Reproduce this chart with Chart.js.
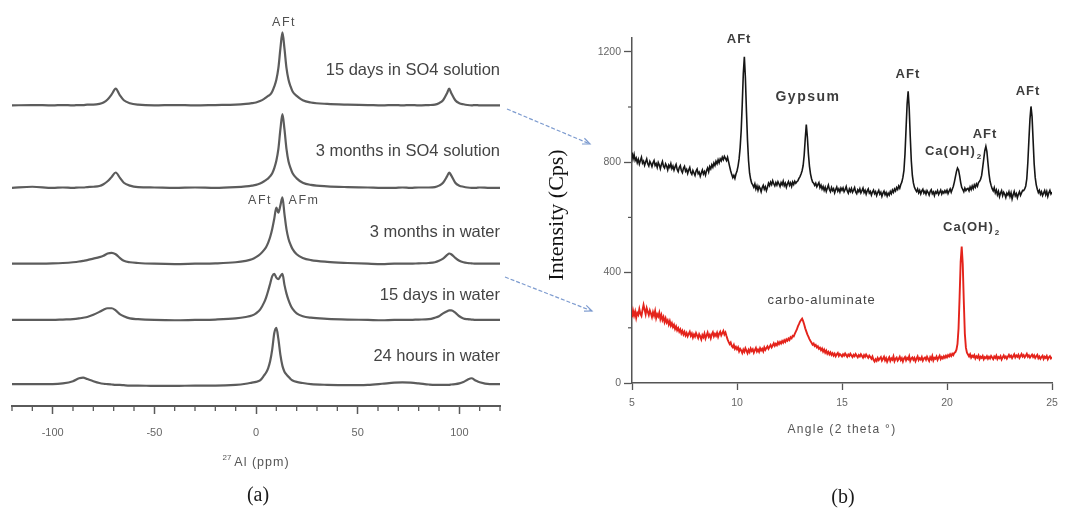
<!DOCTYPE html>
<html>
<head>
<meta charset="utf-8">
<script src="https://cdn.jsdelivr.net/npm/chart.js@4.4.1/dist/chart.umd.min.js"></script>
<style>
   html, body { margin: 0; padding: 0; background: #fff; }
   #wrap { position: relative; width: 1065px; height: 515px; }
   #wrap canvas { position: absolute; left: 0; top: 0; }
</style>
</head>
<body>
<div id="wrap">
   <canvas id="canvasNmr" width="1065" height="515"></canvas>
   <canvas id="canvasXrd" width="1065" height="515"></canvas>
</div>
<script>

/* ---------- (a) 27Al NMR spectra, intensity in a.u. above each baseline ---------- */

const ppmGrid = [
   -120, -110, -100, -95, -90, -87, -85, -83, -80, -77,
   -75, -73, -71, -69, -67, -65, -62, -58, -50, -40,
   -30, -20, -10, -5, -2, 0, 2, 4, 5, 6,
   7, 8, 9, 10, 11, 12, 13, 14, 15, 16,
   17, 18, 20, 23, 27, 35, 45, 55, 62, 68,
   72, 76, 80, 85, 88, 90, 92, 94, 95, 96,
   98, 100, 102, 104, 106, 108, 110, 115, 120
];

const nmrNames = [
   "15 days in SO4 solution",
   "3 months in SO4 solution",
   "3 months in water",
   "15 days in water",
   "24 hours in water"
];

const nmr15dSO4 = [
   0, 0.5, 0, 0.5, 0, 0.5, 0.5, 1, 1, 2,
   4, 8, 15, 23, 14, 7, 3, 1, 0, 0.5,
   0, 0.5, 1, 2, 3, 4, 6, 9, 11, 13,
   15, 19, 26, 35, 51, 78, 100, 78, 51, 35,
   26, 19, 13, 7, 4, 2, 1, 0.5, 0, 0.5,
   0, 0.5, 0, 0.5, 1, 3, 7, 17, 23, 17,
   7, 3, 1.5, 0.5, 0, 0.5, 0, 0, 0
];

const nmr3mSO4 = [
   0, 1.5, 0, 0.5, 0, 0.5, 0.5, 1, 1.5, 2.5,
   5, 9, 15, 21, 14, 7, 3, 1, 0.5, 0,
   0.5, 0, 1, 2, 3, 4, 6, 9, 11, 13,
   16, 20, 27, 37, 53, 80, 101, 80, 53, 36,
   27, 20, 13, 7, 4, 2, 1, 0.5, 0, 0,
   0.5, 0, 0.5, 0.5, 1, 3, 7, 16, 21, 17,
   7, 3, 1.5, 0.5, 0, 0, 0.5, 0, 0
];

const nmr3mWater = [
   0, 0, 0.5, 1, 2, 3, 4, 5, 7, 9,
   11, 14, 15, 13, 8, 4, 2, 1, 0, -0.5,
   0, 0.5, 2, 4, 6, 9, 13, 19, 23, 29,
   37, 48, 62, 77, 70, 80, 91, 68, 47, 34,
   26, 20, 13, 8, 5, 2.5, 1, 0, -0.5, 0,
   0, 0, 0.5, 1, 2, 4, 7, 12, 14, 13,
   8, 4, 2, 1, 0.5, 0, 0, 0, 0
];

const nmr15dWater = [
   0, 0, 0, 0.5, 1, 2, 3, 4, 7, 11,
   14, 16, 16, 13, 8, 5, 2, 1, 0, -0.5,
   0, 0.5, 2, 4, 6, 9, 14, 24, 31, 40,
   50, 60, 63, 58, 56, 60, 63, 48, 36, 27,
   20, 15, 9, 5, 3, 1.5, 0.5, 0, -0.5, 0,
   0, 0, 0.5, 1, 3, 5, 9, 12, 13, 13,
   10, 5, 2, 1, 0.5, 0, 0, 0, 0
];

const nmr24hWater = [
   0, 0, 0, 1, 4, 8, 9, 7, 4, 1.5,
   0.5, 0, -0.5, -1, -1, -1.5, -2, -2, -2.5, -2.5,
   -2, -2, -1, 0.5, 2, 3, 5, 12, 16, 22,
   32, 48, 70, 77, 62, 40, 25, 17, 13, 10,
   7, 5, 3, 1.5, 0, -1, -1.5, -1, 0.5, 2,
   2.5, 2, 1, -0.5, -1, -1, -1, -1, -1, -0.5,
   0, 1, 3, 6, 8, 5, 2.5, 0, 0
];

const ppmTicks = [-100, -50, 0, 50, 100];
const ppmMinor = [-120, -110, -90, -80, -70, -60, -40, -30, -20, -10,
   10, 20, 30, 40, 60, 70, 80, 90, 110, 120];

/* ---------- (b) XRD patterns, step scan 5 -> 25 deg, 0.05 deg step ---------- */

const scanStart = 5, scanStep = 0.05;

/* 15 days in SO4 solution (black) */
const xrdSO4 = [
   835, 812, 828, 806, 815, 798, 810, 793, 806, 818, 797, 804, 789, 801, 812, 794, 786, 803, 795, 784,
   798, 806, 788, 795, 781, 799, 790, 776, 792, 803, 785, 779, 794, 786, 772, 789, 781, 795, 777, 786,
   771, 783, 792, 774, 766, 781, 788, 770, 762, 778, 785, 767, 774, 759, 772, 781, 763, 756, 770, 761,
   752, 768, 775, 758, 764, 749, 761, 772, 757, 766, 753, 770, 779, 765, 784, 776, 791, 782, 797, 788,
   803, 794, 809, 798, 812, 805, 818, 809, 821, 814, 806, 818, 801, 784, 768, 755, 744, 752, 741, 757,
   768, 786, 812, 853, 915, 1010, 1120, 1182, 1105, 985, 880, 805, 760, 738, 724, 718, 709, 721, 703, 714,
   698, 712, 705, 693, 708, 716, 702, 711, 697, 709, 724, 715, 728, 719, 733, 722, 714, 726, 717, 729,
   721, 712, 726, 718, 731, 715, 724, 709, 722, 730, 716, 725, 712, 728, 719, 731, 724, 729, 733, 741,
   748, 757, 769, 788, 826, 885, 936, 892, 830, 786, 758, 740, 728, 724, 716, 724, 711, 719, 726, 708,
   717, 703, 712, 698, 709, 694, 706, 717, 701, 693, 708, 697, 704, 689, 701, 710, 695, 703, 692, 706,
   698, 707, 693, 701, 712, 696, 688, 703, 694, 705, 691, 699, 708, 692, 686, 700, 693, 704, 689, 697,
   706, 690, 698, 684, 696, 703, 688, 694, 681, 692, 699, 686, 693, 679, 690, 698, 684, 691, 676, 688,
   695, 682, 690, 677, 688, 681, 694, 686, 699, 691, 703, 696, 708, 701, 714, 706, 719, 728, 745, 770,
   830, 920, 1010, 1057, 995, 893, 805, 752, 725, 709, 701, 694, 703, 689, 698, 685, 696, 702, 688, 695,
   684, 697, 690, 681, 694, 700, 686, 692, 679, 693, 688, 697, 683, 691, 699, 685, 694, 688, 697, 690,
   699, 686, 695, 703, 691, 702, 712, 728, 747, 766, 779, 772, 751, 727, 709, 701, 693, 706, 697, 703,
   705, 696, 710, 701, 714, 704, 718, 709, 721, 713, 726, 731, 738, 752, 781, 812, 842, 857, 838, 797,
   758, 731, 716, 704, 696, 708, 689, 699, 682, 694, 675, 688, 697, 679, 691, 684, 672, 688, 681, 693,
   676, 689, 667, 682, 694, 678, 686, 671, 684, 693, 680, 689, 698, 697, 703, 714, 740, 800, 880, 955,
   1002, 965, 880, 795, 745, 718, 702, 690, 698, 684, 693, 679, 688, 697, 682, 694, 676, 689, 698, 685,
   692
];

/* 24 hours in water (red) */
const xrdWater = [
   238, 262, 244, 259, 236, 254, 247, 268, 251, 243, 264, 283, 266, 249, 271, 258, 246, 263, 252, 239,
   257, 244, 261, 235, 249, 241, 255, 232, 246, 228, 239, 221, 234, 219, 227, 212, 224, 208, 217, 203,
   211, 196, 205, 191, 199, 186, 194, 180, 189, 176, 185, 172, 181, 169, 178, 186, 171, 179, 165, 176,
   168, 181, 172, 163, 177, 169, 158, 174, 166, 179, 161, 172, 183, 168, 175, 162, 176, 184, 169, 178,
   171, 182, 167, 179, 186, 173, 181, 189, 176, 183, 170, 158, 149, 141, 147, 134, 129, 138, 124, 131,
   122, 129, 115, 124, 118, 109, 121, 113, 126, 117, 108, 120, 112, 125, 116, 122, 110, 119, 127, 114,
   121, 113, 126, 118, 124, 115, 129, 120, 127, 133, 124, 131, 138, 129, 136, 144, 135, 142, 137, 148,
   141, 149, 143, 152, 146, 155, 149, 158, 153, 161, 156, 166, 162, 171, 169, 178, 186, 194, 205, 213,
   222, 228, 233, 224, 212, 198, 187, 176, 168, 159, 152, 146, 139, 143, 134, 138, 129, 133, 124, 128,
   119, 125, 114, 121, 110, 117, 106, 113, 104, 111, 102, 108, 99, 106, 97, 104, 109, 98, 105, 101,
   96, 104, 99, 107, 101, 95, 103, 98, 106, 100, 94, 102, 97, 105, 99, 93, 101, 96, 104, 98,
   92, 101, 95, 103, 97, 91, 99, 94, 88, 96, 84, 78, 86, 80, 91, 83, 89, 94, 81, 88,
   95, 82, 90, 77, 86, 93, 80, 89, 84, 96, 79, 88, 92, 81, 87, 95, 83, 90, 78, 89,
   94, 82, 91, 86, 97, 80, 89, 93, 84, 91, 79, 88, 96, 83, 90, 85, 94, 81, 89, 92,
   84, 95, 87, 80, 93, 86, 98, 82, 91, 88, 96, 84, 92, 99, 87, 94, 89, 97, 91, 99,
   93, 101, 96, 104, 98, 106, 101, 109, 112, 121, 142, 198, 312, 438, 494, 431, 296, 178, 128, 110,
   103, 96, 104, 92, 99, 94, 101, 89, 97, 92, 100, 87, 95, 91, 98, 86, 94, 90, 97, 88,
   95, 89, 98, 92, 86, 96, 91, 99, 87, 94, 90, 97, 85, 93, 100, 91, 96, 88, 95, 102,
   94, 99, 90, 97, 104, 93, 100, 95, 102, 91, 98, 105, 96, 101, 93, 99, 106, 95, 100, 92,
   98, 103, 94, 100, 91, 97, 102, 90, 96, 88, 94, 99, 87, 95, 91, 98, 86, 93, 97, 89,
   94
];

const angleTicks = [5, 10, 15, 20, 25];
const cpsTicks = [0, 400, 800, 1200];
const cpsMinor = [200, 600, 1000];

/* ---------- drawing ---------- */

const SANS = '"Liberation Sans", Arial, sans-serif';
const SERIF = '"Liberation Serif", "Times New Roman", serif';

/* vertical stacking of the spectra (a.u.) and height of each name label */
const stackOffset = [412, 299, 195, 118, 30];
const nameHeight = [452, 340, 230, 143, 59];

function fixedTicks(list) {
   return (scale) => { scale.ticks = list.map(v => ({value: v})); };
}

function txt(ctx, s, x, y, font, color, align, spacing) {
   ctx.font = font;
   ctx.fillStyle = color;
   ctx.textAlign = align || "center";
   ctx.textBaseline = "middle";
   ctx.letterSpacing = spacing || "0px";
   ctx.fillText(s, x, y);
}

/* Ca(OH)2 with a lowered small "2" */
function caOH2(ctx, x, y, color) {
   txt(ctx, "Ca(OH)", x, y, "bold 13px " + SANS, color, "left", "1px");
   let w = ctx.measureText("Ca(OH)").width;
   txt(ctx, "2", x + w + 1, y + 5, "bold 8px " + SANS, color, "left", "0px");
}

const nmrDecor = {
   id: "nmrDecor",
   afterDraw(chart) {
      let ctx = chart.ctx, xs = chart.scales.x, ys = chart.scales.y;
      let area = chart.chartArea;
      ctx.save();
      /* minor ticks every 10 ppm */
      ctx.strokeStyle = "#5a5a5a";
      ctx.lineWidth = 1.3;
      for (let v of ppmMinor) {
         let px = xs.getPixelForValue(v);
         ctx.beginPath();
         ctx.moveTo(px, area.bottom);
         ctx.lineTo(px, area.bottom + 5);
         ctx.stroke();
      }
      /* sample names, right aligned at the end of the axis */
      let xr = xs.getPixelForValue(120);
      nmrNames.forEach((n, i) => {
         txt(ctx, n, xr, ys.getPixelForValue(nameHeight[i]) - 6, "16.5px " + SANS, "#444", "right");
      });
      /* peak labels */
      let pk = "12.5px " + SANS;
      txt(ctx, "AFt", xs.getPixelForValue(13.8), ys.getPixelForValue(525), pk, "#505050", "center", "1.5px");
      txt(ctx, "AFt", xs.getPixelForValue(2), ys.getPixelForValue(281), pk, "#505050", "center", "1.5px");
      txt(ctx, "AFm", xs.getPixelForValue(23.6), ys.getPixelForValue(281), pk, "#505050", "center", "1.5px");
      /* axis title 27Al (ppm) */
      let cx = (area.left + area.right) / 2;
      ctx.font = "12.5px " + SANS;
      ctx.letterSpacing = "1px";
      let wMain = ctx.measureText("Al (ppm)").width;
      ctx.font = "8px " + SANS;
      let wSup = ctx.measureText("27").width;
      let x0 = cx - (wMain + wSup + 1) / 2;
      txt(ctx, "27", x0, 458, "8px " + SANS, "#555", "left", "0px");
      txt(ctx, "Al (ppm)", x0 + wSup + 1, 463, "12.5px " + SANS, "#555", "left", "1px");
      /* panel letter */
      txt(ctx, "(a)", 258, 496, "20px " + SERIF, "#1a1a1a", "center");
      ctx.restore();
   }
};

const xrdDecor = {
   id: "xrdDecor",
   afterDraw(chart) {
      let ctx = chart.ctx, xs = chart.scales.x, ys = chart.scales.y;
      let area = chart.chartArea;
      ctx.save();
      /* short minor ticks on the intensity axis */
      ctx.strokeStyle = "#555";
      ctx.lineWidth = 1.2;
      for (let v of cpsMinor) {
         let py = ys.getPixelForValue(v);
         ctx.beginPath();
         ctx.moveTo(area.left, py);
         ctx.lineTo(area.left - 4, py);
         ctx.stroke();
      }
      /* peak labels */
      let bold = "bold 13px " + SANS, c = "#3d3d3d";
      txt(ctx, "AFt", xs.getPixelForValue(10.1), ys.getPixelForValue(1244), bold, c, "center", "1px");
      txt(ctx, "Gypsum", xs.getPixelForValue(13.38), ys.getPixelForValue(1037), "bold 14px " + SANS, c, "center", "1.5px");
      txt(ctx, "AFt", xs.getPixelForValue(18.14), ys.getPixelForValue(1117), bold, c, "center", "1px");
      txt(ctx, "AFt", xs.getPixelForValue(21.81), ys.getPixelForValue(900), bold, c, "center", "1px");
      txt(ctx, "AFt", xs.getPixelForValue(23.86), ys.getPixelForValue(1055), bold, c, "center", "1px");
      caOH2(ctx, xs.getPixelForValue(18.95), ys.getPixelForValue(838), c);
      caOH2(ctx, xs.getPixelForValue(19.81), ys.getPixelForValue(562), c);
      txt(ctx, "carbo-aluminate", xs.getPixelForValue(14.03), ys.getPixelForValue(301), "13px " + SANS, "#444", "center", "1px");
      /* axis titles */
      txt(ctx, "Angle (2 theta \u00b0)", (area.left + area.right) / 2, 430, "12px " + SANS, "#555", "center", "1.3px");
      ctx.save();
      ctx.translate(557, 215);
      ctx.rotate(-Math.PI / 2);
      txt(ctx, "Intensity (Cps)", 0, 0, "22px " + SERIF, "#111", "center");
      ctx.restore();
      txt(ctx, "(b)", 843, 498, "20px " + SERIF, "#1a1a1a", "center");
      /* dashed connectors from the spectra to the patterns */
      const connectors = [[507, 109, 590, 144], [505, 277, 592, 311]];
      ctx.strokeStyle = "#7d9bcf";
      ctx.lineWidth = 1.2;
      for (let [x1, y1, x2, y2] of connectors) {
         ctx.setLineDash([4, 2]);
         ctx.beginPath();
         ctx.moveTo(x1, y1);
         ctx.lineTo(x2, y2);
         ctx.stroke();
         ctx.setLineDash([]);
         let a = Math.atan2(y2 - y1, x2 - x1);
         ctx.beginPath();
         ctx.moveTo(x2 - 8 * Math.cos(a - 0.4), y2 - 8 * Math.sin(a - 0.4));
         ctx.lineTo(x2, y2);
         ctx.lineTo(x2 - 8 * Math.cos(a + 0.4), y2 - 8 * Math.sin(a + 0.4));
         ctx.stroke();
      }
      ctx.restore();
   }
};

/* - - */
let nmrSeries = [nmr15dSO4, nmr3mSO4, nmr3mWater, nmr15dWater, nmr24hWater];
let nmrDatasets = nmrSeries.map((vals, i) => ({
   label: nmrNames[i],
   data: ppmGrid.map((p, k) => ({x: p, y: vals[k] + stackOffset[i]})),
   borderColor: "#5c5c5c",
   borderWidth: 2.2,
   pointRadius: 0,
   cubicInterpolationMode: "monotone",
   fill: false
}));

let nmrChart = new Chart(document.getElementById("canvasNmr"), {
   type: "line",
   data: {datasets: nmrDatasets},
   options: {
      responsive: false,
      animation: false,
      devicePixelRatio: 1,
      layout: {padding: {left: 12, right: 565, top: 12, bottom: 49}},
      scales: {
         x: {
            type: "linear", min: -120, max: 120,
            afterBuildTicks: fixedTicks(ppmTicks),
            afterFit: (s) => { s.height = 60; },
            border: {color: "#5a5a5a", width: 2},
            grid: {drawOnChartArea: false, tickLength: 8, tickColor: "#5a5a5a", tickWidth: 1.5},
            ticks: {color: "#666", font: {family: SANS, size: 11}, padding: 12, maxRotation: 0, autoSkip: false}
         },
         y: {display: false, min: 0, max: 540}
      },
      plugins: {legend: {display: false}, tooltip: {enabled: false}}
   },
   plugins: [nmrDecor]
});

/* - - */
function toPoints(vals) {
   return vals.map((v, i) => ({x: scanStart + i * scanStep, y: v}));
}

let xrdChart = new Chart(document.getElementById("canvasXrd"), {
   type: "line",
   data: {
      datasets: [
         {label: "15 days in SO4 solution", data: toPoints(xrdSO4), borderColor: "#161616", borderWidth: 1.6, pointRadius: 0},
         {label: "24 hours in water", data: toPoints(xrdWater), borderColor: "#e4231b", borderWidth: 1.9, pointRadius: 0}
      ]
   },
   options: {
      responsive: false,
      animation: false,
      devicePixelRatio: 1,
      layout: {padding: {left: 592, right: 13, top: 38, bottom: 92}},
      scales: {
         x: {
            type: "linear", min: 5, max: 25,
            afterBuildTicks: fixedTicks(angleTicks),
            afterFit: (s) => { s.height = 40; },
            border: {color: "#555", width: 1.5},
            grid: {drawOnChartArea: false, tickLength: 7, tickColor: "#555", tickWidth: 1.3},
            ticks: {color: "#666", font: {family: SANS, size: 10.5}, padding: 7, maxRotation: 0, autoSkip: false}
         },
         y: {
            min: 0, max: 1250,
            afterBuildTicks: fixedTicks(cpsTicks),
            afterFit: (s) => { s.width = 40; },
            border: {color: "#555", width: 1.5},
            grid: {drawOnChartArea: false, tickLength: 8, tickColor: "#555", tickWidth: 1.3},
            ticks: {color: "#666", font: {family: SANS, size: 10.5}, padding: 3, callback: (v) => String(v)}
         }
      },
      plugins: {legend: {display: false}, tooltip: {enabled: false}}
   },
   plugins: [xrdDecor]
});

</script>
</body>
</html>
